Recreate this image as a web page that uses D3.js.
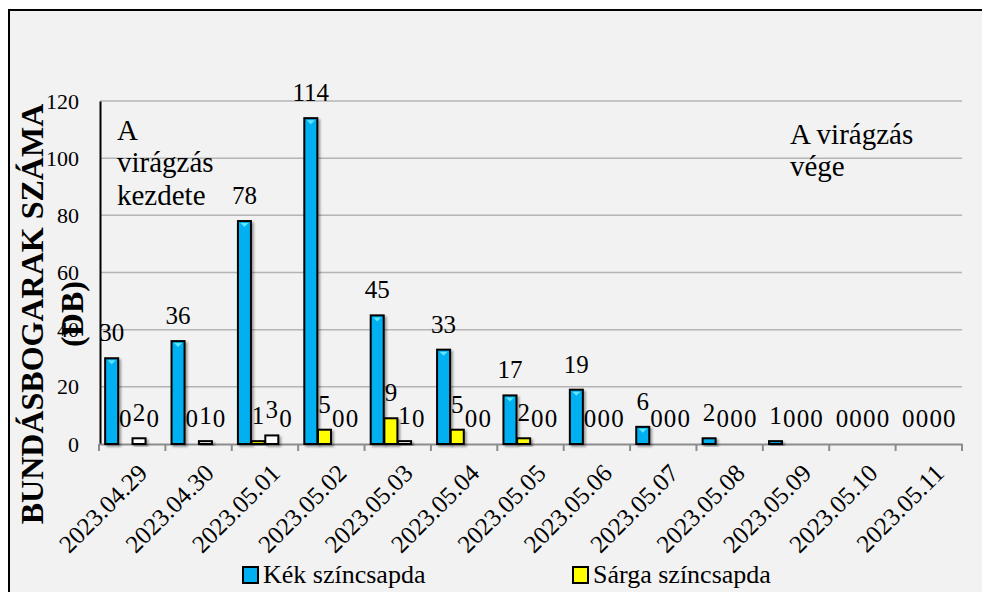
<!DOCTYPE html>
<html><head><meta charset="utf-8">
<script src="https://cdn.jsdelivr.net/npm/d3@7/dist/d3.min.js"></script>
<style>html,body{margin:0;padding:0;background:#fff;overflow:hidden}svg{display:block}</style>
</head><body><svg id="c" width="982" height="592"></svg>
<script>
const categories = ["2023.04.29","2023.04.30","2023.05.01","2023.05.02","2023.05.03","2023.05.04","2023.05.05","2023.05.06","2023.05.07","2023.05.08","2023.05.09","2023.05.10","2023.05.11"];
const seriesNames = ["Kék színcsapda","Sárga színcsapda","Fehér színcsapda","Egyéb"];
const seriesColors = ["#00b0f0","#ffff00","#ffffff","#ffffff"];
const kek   = [30,36,78,114,45,33,17,19,6,2,1,0,0];
const sarga = [0,0,1,5,9,5,2,0,0,0,0,0,0];
const feher = [2,1,3,0,1,0,0,0,0,0,0,0,0];
const egyeb = [0,0,0,0,0,0,0,0,0,0,0,0,0];
const yTicks = [0,20,40,60,80,100,120];
const legendShown = [0,1];

const FONT = "Liberation Serif";
const series = [kek, sarga, feher, egyeb];
const svg = d3.select("#c");
svg.append("rect").attr("x",9).attr("y",10).attr("width",1000).attr("height",620).attr("fill","#f2f2f2").attr("stroke","#000").attr("stroke-width",2);

const defs = svg.append("defs");
const f = defs.append("filter").attr("id","sh").attr("x","-50%").attr("y","-50%").attr("width","200%").attr("height","200%");
f.append("feDropShadow").attr("dx",2).attr("dy",2).attr("stdDeviation",1.2).attr("flood-color","#000").attr("flood-opacity",0.35);

const x0 = d3.scaleBand().domain(categories).range([99,962]).padding(0);
const x1 = d3.scaleBand().domain(d3.range(4)).range([0,x0.bandwidth()]).paddingInner(0.05).paddingOuter(0.45);
const y = d3.scaleLinear().domain([0,120]).range([444,101]);

// gridlines
svg.append("g").selectAll("line").data(yTicks.filter(d=>d>0)).join("line")
  .attr("x1",100).attr("x2",962).attr("y1",d=>y(d)).attr("y2",d=>y(d))
  .attr("stroke","#b4b4b4").attr("stroke-width",1.5);

// y axis
const ya = svg.append("g").attr("transform","translate(100,0)").call(d3.axisLeft(y).tickValues(yTicks).tickSize(0).tickPadding(21));
ya.select(".domain").attr("stroke","#000").attr("stroke-width",2);

// x axis
const xa = svg.append("g").attr("transform","translate(0,444)")
  .call(d3.axisBottom(x0).tickSize(0).tickFormat(""));
xa.select(".domain").attr("stroke","#8c8c8c").attr("stroke-width",2);
const bounds = categories.map(c=>x0(c)).concat([x0(categories[categories.length-1])+x0.bandwidth()]);
svg.append("g").selectAll("line").data(bounds).join("line")
  .attr("x1",d=>d).attr("x2",d=>d).attr("y1",444).attr("y2",451).attr("stroke","#8c8c8c").attr("stroke-width",2);
const xl = svg.append("g").selectAll("text").data(categories).join("text")
  .attr("transform",d=>`translate(${x0(d)+x0.bandwidth()/2+4},462) rotate(-45)`)
  .attr("text-anchor","end").attr("dy","0.72em").text(d=>d);

// bars
const g = svg.append("g");
series.forEach((vals,si)=>{
  g.append("g").selectAll("rect").data(vals).join("rect")
    .attr("x",(d,i)=>x0(categories[i])+x1(si))
    .attr("width",x1.bandwidth())
    .attr("y",d=>y(d)).attr("height",d=>y(0)-y(d))
    .attr("fill",seriesColors[si]).attr("stroke","#000").attr("stroke-width",2)
    .attr("filter","url(#sh)")
    .style("display",d=>d>0?null:"none");
});
// bevel highlight on blue bars
g.append("g").selectAll("path").data(kek).join("path")
  .attr("d",(d,i)=>{const xl=x0(categories[i])+x1(0), w=x1.bandwidth(), t=y(d);
    return `M${xl+2.5},${t+2} L${xl+w-2.5},${t+2} L${xl+w/2},${t+6} Z`;})
  .attr("fill","#5fe6ff").style("display",d=>d>=4?null:"none");

// data labels
const dl = svg.append("g");
series.forEach((vals,si)=>{
  dl.append("g").selectAll("text").data(vals).join("text")
    .attr("x",(d,i)=>x0(categories[i])+x1(si)+x1.bandwidth()/2)
    .attr("y",d=>y(d)-17).attr("text-anchor","middle").text(d=>d);
});

// annotations
const ann1 = svg.append("text");
[["A",140],["virágzás",172],["kezdete",205]].forEach(([t,yy])=>ann1.append("tspan").attr("x",117).attr("y",yy).text(t));
const ann2 = svg.append("text");
[["A virágzás",144],["vége",176]].forEach(([t,yy])=>ann2.append("tspan").attr("x",790).attr("y",yy).text(t));

// y title
const t1 = svg.append("text").attr("transform","translate(43,314) rotate(-90)").attr("text-anchor","middle")
  .attr("font-weight","bold").text("BUNDÁSBOGARAK SZÁMA");
const t2 = svg.append("text").attr("transform","translate(83,314) rotate(-90)").attr("text-anchor","middle")
  .attr("font-weight","bold").text("(DB)");

// legend
const legX = [243,573];
const lg = svg.append("g");
legendShown.forEach((si,k)=>{
  lg.append("rect").attr("x",legX[k]).attr("y",567).attr("width",15).attr("height",16)
    .attr("fill",seriesColors[si]).attr("stroke","#000").attr("stroke-width",2);
  lg.append("text").attr("x",legX[k]+20).attr("y",583).text(seriesNames[si]);
});

svg.selectAll("g").attr("font-family",null).attr("font-size",null);
svg.selectAll("text").attr("font-family",FONT).attr("fill","#000");
ya.selectAll("text").attr("font-size",22);
xl.attr("font-size",25);
dl.selectAll("text").attr("font-size",25);
ann1.attr("font-size",29); ann2.attr("font-size",29);
t1.attr("font-size",32); t2.attr("font-size",32);
lg.selectAll("text").attr("font-size",26);
</script></body></html>
